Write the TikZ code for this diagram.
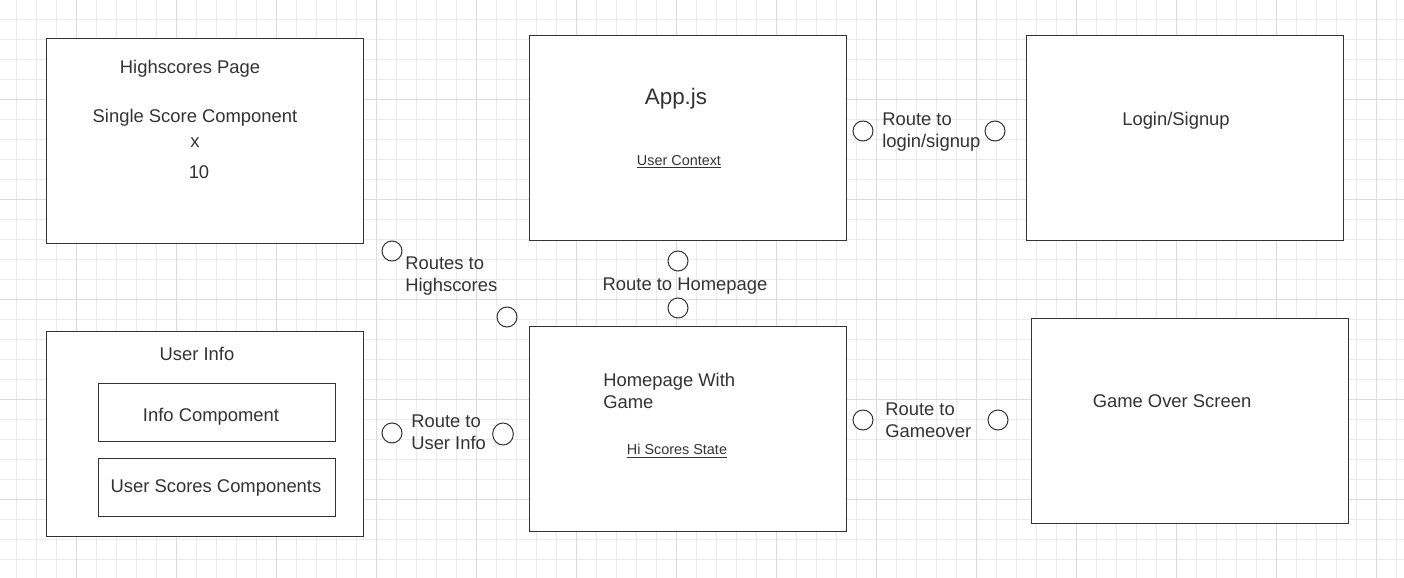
\documentclass[tikz,border=0pt]{standalone}
\usepackage{fontspec}
\usetikzlibrary{shapes.geometric}
\setmainfont{Liberation Sans}
\definecolor{gridminor}{HTML}{EBEBEB}
\definecolor{gridmajor}{HTML}{DCDCDC}
\definecolor{ink}{HTML}{333333}
\begin{document}
\begin{tikzpicture}[x=0.75pt,y=-0.75pt,
  box/.style={draw=ink,line width=0.75pt,fill=white},
  port/.style={draw=ink,line width=0.75pt,fill=white,circle,minimum size=15pt,inner sep=0pt},
  txt/.style={text=ink,font=\fontsize{13.8}{16.5}\selectfont,inner sep=0pt,yshift=-1.5pt},
  small/.style={text=ink,font=\fontsize{10.8}{13}\selectfont,inner sep=0pt,yshift=-1.5pt},
  big/.style={text=ink,font=\fontsize{16.8}{20}\selectfont,inner sep=0pt,yshift=-1.5pt},
  multi/.style={txt,align=left,anchor=north west}
]
\useasboundingbox (0,0) rectangle (1404,578);
\fill[white] (0,0) rectangle (1404,578);
% grid
\foreach \x in {16,36,...,1404} \draw[gridminor,line width=0.75pt] (\x,0) -- (\x,578);
\foreach \y in {19,39,...,578} \draw[gridminor,line width=0.75pt] (0,\y) -- (1404,\y);
\foreach \x in {76,176,...,1404} \draw[gridmajor,line width=0.75pt] (\x,0) -- (\x,578);
\foreach \y in {99,199,...,578} \draw[gridmajor,line width=0.75pt] (0,\y) -- (1404,\y);

% boxes
\draw[box] (46,38) rectangle (363,243) coordinate (hsbox);
\draw[box] (529,35) rectangle (846,240) coordinate (appbox);
\draw[box] (1026,35) rectangle (1343,240) coordinate (loginbox);
\draw[box] (46,331) rectangle (363,536) coordinate (uibox);
\draw[box] (98,383) rectangle (335,441) coordinate (infobox);
\draw[box] (98,458) rectangle (335,516) coordinate (scoresbox);
\draw[box] (529,326) rectangle (846,531) coordinate (homebox);
\draw[box] (1031,318) rectangle (1348,523) coordinate (gobox);

% texts in boxes
\node[txt] (hstitle) at (190,67) {Highscores Page};
\node[txt] (single) at (195,116) {Single Score Component};
\node[txt] (xx) at (195,141) {x};
\node[txt] (ten) at (199,170) {10};
\node[big] (app) at (676,97) {App.js};
\node[small] (uctx) at (679,160) {\underline{User Context}};
\node[txt] (login) at (1176,119) {Login/Signup};
\node[txt] (uinfo) at (197,352) {User Info};
\node[txt] (info) at (211,415) {Info Compoment};
\node[txt] (uscores) at (216,486) {User Scores Components};
\node[multi] (home) at (603,371) {Homepage With\\Game};
\node[small] (hiss) at (677,449) {\underline{Hi Scores State}};
\node[txt] (gameover) at (1172,399) {Game Over Screen};

% route labels
\node[multi] (rhs) at (405,255) {Routes to\\Highscores};
\node[multi] (rlog) at (882,111) {Route to\\login/signup};
\node[txt] (rhome) at (685,284) {Route to Homepage};
\node[multi] (rui) at (411,413) {Route to\\User Info};
\node[multi] (rgo) at (885,401) {Route to\\Gameover};

% ports
\node[port] (p1) at (392,251) {};
\node[port] (p2) at (507,317) {};
\node[port] (p3) at (863,131) {};
\node[port] (p4) at (995,131) {};
\node[port] (p5) at (678,261) {};
\node[port] (p6) at (678,308) {};
\node[port] (p7) at (392,433) {};
\node[port,ellipse,minimum width=15.5pt,minimum height=16.5pt] (p8) at (503,434) {};
\node[port] (p9) at (863,420) {};
\node[port] (p10) at (998,420) {};
\end{tikzpicture}
\end{document}
